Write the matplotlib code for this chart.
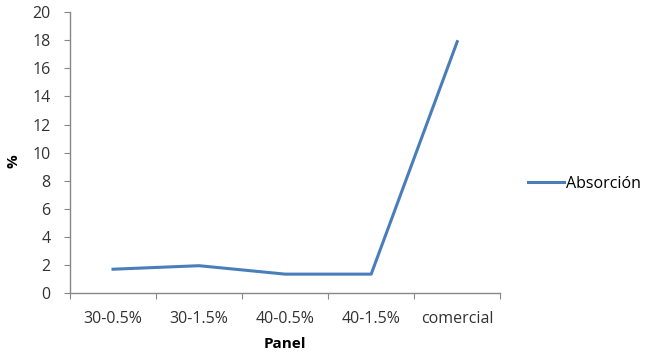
import matplotlib.pyplot as plt
import numpy as np

# Absorción por tipo de panel
paneles = ["30-0.5%", "30-1.5%", "40-0.5%", "40-1.5%", "comercial"]
absorcion = [1.7, 1.95, 1.35, 1.35, 17.9]
y_ticks = [0, 2, 4, 6, 8, 10, 12, 14, 16, 18, 20]

plt.rcParams['font.family'] = ['Open Sans', 'DejaVu Sans']

fig = plt.figure(figsize=(6.48, 3.57), dpi=100)
ax = fig.add_axes([0.108, 0.179, 0.664, 0.787])

x = np.arange(len(paneles))
ax.plot(x, absorcion, color="#4a7ebb", linewidth=2.2, label="Absorción")

ax.set_xlim(-0.5, len(paneles) - 0.5)
ax.set_ylim(0, 20)
ax.set_yticks(y_ticks)
ax.set_yticklabels([str(v) for v in y_ticks], fontsize=11.5, color="#333333")

# ticks between categories, labels centred on categories
ax.set_xticks(np.arange(-0.5, len(paneles), 1.0))
ax.set_xticklabels([])
ax.set_xticks(x, minor=True)
ax.set_xticklabels(paneles, minor=True, fontsize=11.5, color="#333333")
ax.tick_params(axis="x", which="minor", length=0, pad=13)
ax.tick_params(axis="x", which="major", length=4, color="#888888", direction="out")
ax.tick_params(axis="y", length=4, color="#888888", direction="out", pad=10)

for side in ["top", "right"]:
    ax.spines[side].set_visible(False)
for side in ["left", "bottom"]:
    ax.spines[side].set_color("#888888")
    ax.spines[side].set_linewidth(1.0)

ax.set_ylabel("%", fontsize=11, fontweight="bold")
ax.yaxis.set_label_coords(-0.115, 0.47)
ax.set_xlabel("Panel", fontsize=11, fontweight="bold", labelpad=7)

ax.legend(loc="center left", bbox_to_anchor=(1.03, 0.39), frameon=False,
          fontsize=11.5, handlelength=2.3, handletextpad=0.1)

fig.savefig("out.png", dpi=100)
